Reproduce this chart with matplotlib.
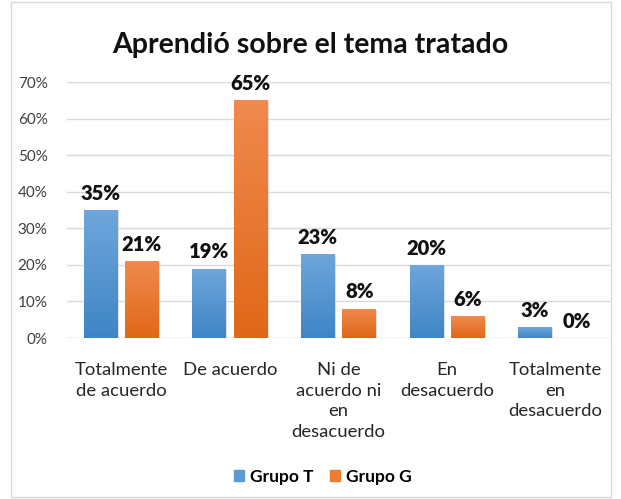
import matplotlib
matplotlib.use("Agg")
import matplotlib.pyplot as plt
import numpy as np
from matplotlib.colors import LinearSegmentedColormap
from matplotlib.patches import Rectangle

categories = ["Totalmente\nde acuerdo", "De acuerdo", "Ni de\nacuerdo ni\nen\ndesacuerdo", "En\ndesacuerdo", "Totalmente\nen\ndesacuerdo"]
grupo_t = [35, 19, 23, 20, 3]
grupo_g = [21, 65, 8, 6, 0]
series_names = ["Grupo T", "Grupo G"]
yticks = [0, 10, 20, 30, 40, 50, 60, 70]

plt.rcParams['font.family'] = ['Lato', 'DejaVu Sans']

fig = plt.figure(figsize=(6.21, 4.99), dpi=100)
fig.patch.set_facecolor('white')
fig.add_artist(Rectangle((11/621, 1 - 497/499), 600/621, 495/499, transform=fig.transFigure,
                         fill=False, edgecolor='#D9D9D9', linewidth=1))

ax = fig.add_axes([67/621, 1 - 338/499, (610 - 67)/621, (338 - 82)/499])
x = np.arange(len(categories))
w = 0.31
gap = 0.035
bt = ax.bar(x - w/2 - gap, grupo_t, w, color='#5B9BD5', zorder=3)
bg = ax.bar(x + w/2 + gap, grupo_g, w, color='#ED7D31', zorder=3)

cm_t = LinearSegmentedColormap.from_list('t', ['#3F85C6', '#6FA6DB'])
cm_g = LinearSegmentedColormap.from_list('g', ['#E06718', '#F08A4E'])
grad = np.linspace(0, 1, 256).reshape(-1, 1)
for bars, cm in ((bt, cm_t), (bg, cm_g)):
    for b in bars:
        h = b.get_height()
        if h <= 0:
            continue
        x0 = b.get_x()
        im = ax.imshow(grad, cmap=cm, origin='lower', aspect='auto',
                       extent=(x0, x0 + b.get_width(), 0, h), zorder=4)
        im.set_clip_path(b)
        ax.add_patch(Rectangle((x0 + 0.012, -0.4), b.get_width(), h, facecolor='#C8C8C8',
                               edgecolor='none', zorder=2.5, alpha=0.6))

for bars, vals in ((bt, grupo_t), (bg, grupo_g)):
    for b, v in zip(bars, vals):
        ax.text(b.get_x() + b.get_width()/2, v + 2.0, f"{v}%", ha='center', va='bottom',
                fontsize=14.5, fontweight='heavy', color='#111111', zorder=5)

ax.set_ylim(0, 70)
ax.set_xlim(-0.5, len(categories) - 0.5)
ax.set_yticks(yticks)
ax.set_yticklabels([f"{t}%" for t in yticks], fontsize=11, color='#404040')
ax.set_xticks(x)
ax.set_xticklabels(categories, fontsize=13.3, color='#262626', linespacing=1.38)
ax.tick_params(axis='both', length=0)
ax.tick_params(axis='x', pad=17)
ax.tick_params(axis='y', pad=14)
ax.grid(axis='y', color='#D9D9D9', linewidth=1, zorder=0)
for s in ax.spines.values():
    s.set_visible(False)
ax.axhline(0, color='#D9D9D9', linewidth=1, zorder=1)

fig.text(0.5, 1 - 45/499, "Aprendió sobre el tema tratado", ha='center', va='center',
         fontsize=20.5, fontweight='bold', color='#111111')

handles = [Rectangle((0, 0), 1, 1, color='#5B9BD5'), Rectangle((0, 0), 1, 1, color='#ED7D31')]
leg = fig.legend(handles, series_names, loc='center', bbox_to_anchor=(0.52, 1 - 477/499), ncol=2,
                 frameon=False, handlelength=0.6, handleheight=0.6, handletextpad=0.35,
                 columnspacing=0.9, prop={'size': 12.5, 'weight': 'bold'})

fig.savefig("out.png", dpi=100, facecolor='white')
